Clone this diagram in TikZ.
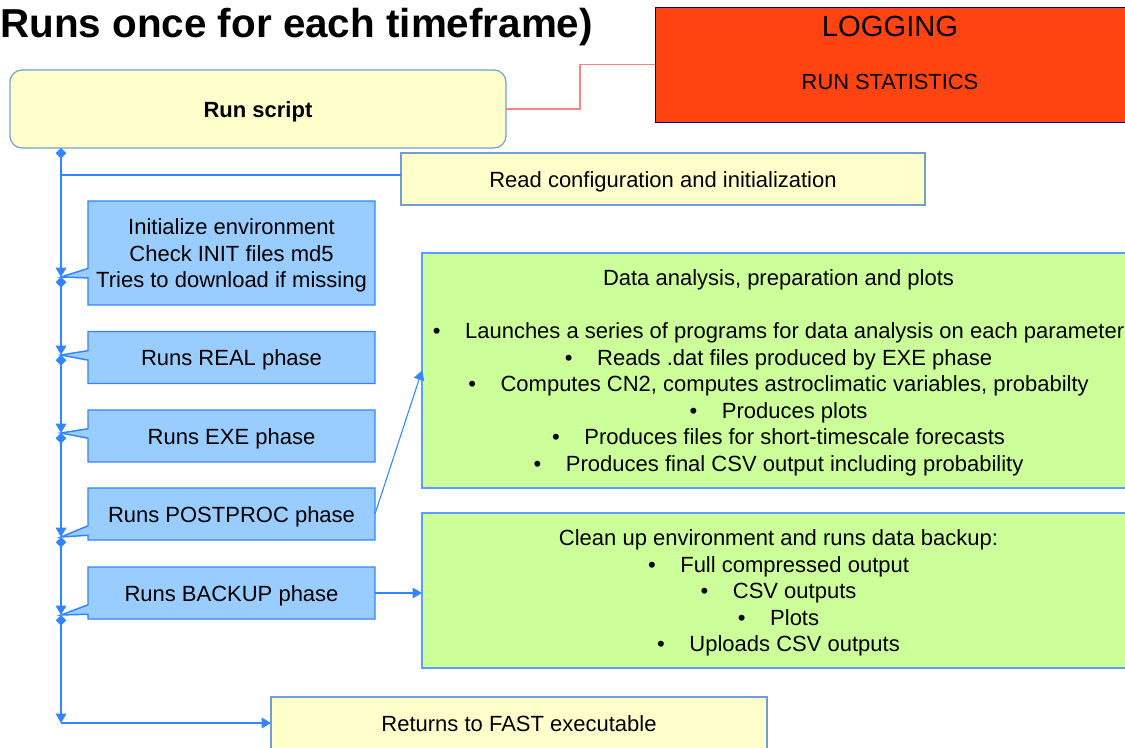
\documentclass[tikz,border=0pt]{standalone}
\usepackage{fontspec}
\setmainfont{Liberation Sans}
\usetikzlibrary{shapes.callouts,arrows.meta,positioning}

\definecolor{paleyellow}{HTML}{FFFFCC}
\definecolor{skyblue}{HTML}{99CCFF}
\definecolor{limegreen}{HTML}{CCFF99}
\definecolor{logred}{HTML}{FF4411}
\definecolor{edgeblue}{HTML}{3385FF}
\definecolor{softblue}{HTML}{729FCF}
\definecolor{linkred}{HTML}{FF8080}

\newcommand{\blt}{\textbullet\hspace{1.12em}}
\newcommand{\topgap}{\rule{0pt}{15.5pt}}

\tikzset{
  base/.style={font=\fontsize{16.5}{19.9}\selectfont, inner sep=0pt, outer sep=0pt},
  yellowbox/.style={base, draw=softblue, fill=paleyellow, line width=0.9pt},
  phase/.style={base, rectangle callout, draw=edgeblue, fill=skyblue, line width=1.1pt,
    minimum width=215.25pt, minimum height=39pt, align=center},
  greenbox/.style={base, draw=edgeblue!80, fill=limegreen, line width=0.9pt,
    minimum width=534.75pt, align=center},
  flow/.style={draw=edgeblue, line width=0.8pt},
  flowseg/.style={flow, {Diamond[length=8pt,width=8pt]}-{Triangle[length=7pt,width=8pt]}}
}

\begin{document}
\begin{tikzpicture}[x=0.75pt,y=-0.75pt]
	\useasboundingbox (0,0) rectangle (1125,748);
	\clip (0,0) rectangle (1125,748);
	% title and logging
	\node[anchor=base west, inner sep=0pt, font=\fontsize{30.3}{36}\selectfont\bfseries] (title) at (0,38) {Runs once for each timeframe)};
	\node[base, draw=blue!60!black, fill=logred, minimum width=360pt, minimum height=86.25pt] (log) at (895,64.5) {};
	\node[base, font=\fontsize{21.9}{26}\selectfont] (logtitle) at (890,26) {LOGGING};
	\node[base, font=\fontsize{16.4}{19}\selectfont] (logstats) at (890,82) {RUN STATISTICS};
	\node[yellowbox, rounded corners=9pt, minimum width=372pt, minimum height=58.5pt, font=\fontsize{16.5}{19.9}\selectfont\bfseries] (run) at (258,109) {\topgap Run script};
	\draw[linkred, line width=0.8pt] (run.east) -- ++(74,0) |- (log.west);
	% points on the main line
	\coordinate (top) at (61,148);
	\coordinate (branch) at (61,175);
	\coordinate (t1) at (61,277);
	\coordinate (t2) at (61,355);
	\coordinate (t3) at (61,433);
	\coordinate (t4) at (61,537);
	\coordinate (t5) at (61,615);
	\coordinate (corner) at (61,723);
	\node[yellowbox, minimum width=393pt, minimum height=39pt] (readcfg) at (663,179) {\topgap Read configuration and initialization};
	% phases
	\node[phase, minimum height=78pt, callout absolute pointer={(t1)}] (init) at (231.5,253) {\topgap Initialize environment\\Check INIT files md5\\Tries to download if missing};
	\node[phase, callout absolute pointer={(t2)}] (real) at (231.5,357.5) {\topgap Runs REAL phase};
	\node[phase, callout absolute pointer={(t3)}] (exe) at (231.5,436) {\topgap Runs EXE phase};
	\node[phase, callout absolute pointer={(t4)}] (post) at (231.5,514) {\topgap Runs POSTPROC phase};
	\node[phase, callout absolute pointer={(t5)}] (back) at (231.5,593) {\topgap Runs BACKUP phase};
	% details
	\node[greenbox, minimum height=176.25pt] (data) at (778.5,370.5) {\topgap Data analysis, preparation and plots\\[19.9pt]
		\blt Launches a series of programs for data analysis on each parameter\\
		\blt Reads .dat files produced by EXE phase\\
		\blt Computes CN2, computes astroclimatic variables, probabilty\\
		\blt Produces plots\\
		\blt Produces files for short-timescale forecasts\\
		\blt Produces final CSV output including probability};
	\node[greenbox, minimum height=116.25pt] (clean) at (778.5,590.5) {\topgap Clean up environment and runs data backup:\\
		\blt Full compressed output\\
		\blt CSV outputs\\
		\blt Plots\\
		\blt Uploads CSV outputs};
	\node[yellowbox, minimum width=372pt, minimum height=39.75pt] (ret) at (519,723.5) {Returns to FAST executable};
	% connectors
	\draw[flowseg] (top) -- (t1);
	\draw[flowseg] (t1) -- (t2);
	\draw[flowseg] (t2) -- (t3);
	\draw[flowseg] (t3) -- (t4);
	\draw[flowseg] (t4) -- (t5);
	\draw[flowseg] (t5) -- (corner);
	\draw[flow, -{Triangle[length=7pt,width=8pt]}] (corner) -- (corner -| ret.west);
	\draw[flow] (branch) -- (branch -| readcfg.west);
	\draw[flow, -{Triangle[length=7pt,width=8pt]}] (post.east) -- (data.west);
	\draw[flow, -{Triangle[length=7pt,width=8pt]}] (back.east) -- (back.east -| clean.west);
\end{tikzpicture}
\end{document}
